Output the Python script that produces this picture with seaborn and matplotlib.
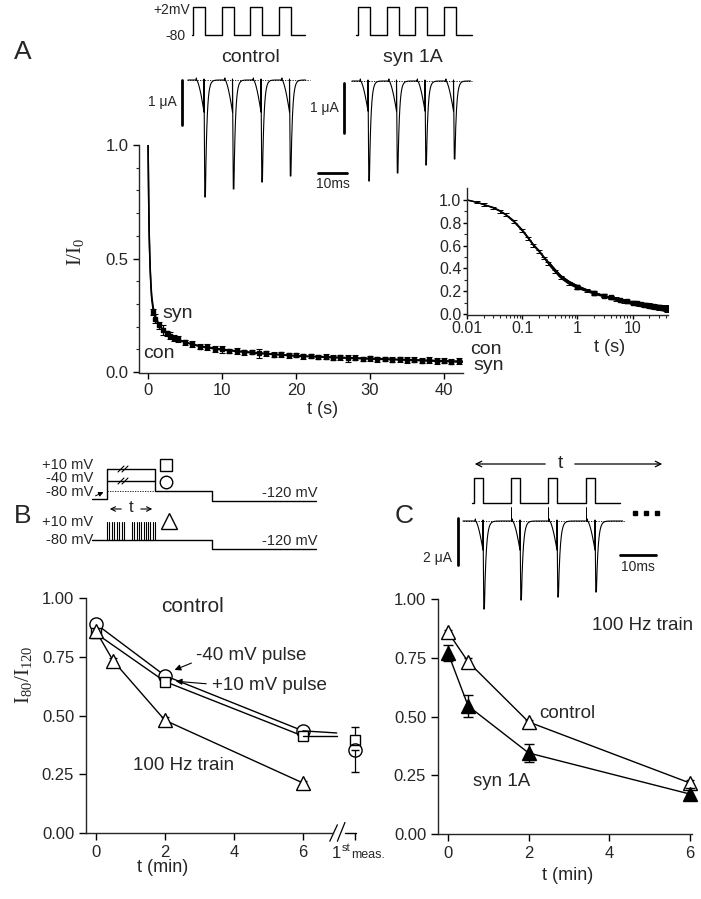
import numpy as np
import pandas as pd
import matplotlib
matplotlib.use("Agg")
import matplotlib.pyplot as plt
import seaborn as sns

sns.set_style("ticks")
plt.rcParams['font.family'] = ['Liberation Sans', 'DejaVu Sans']
plt.rcParams['mathtext.fontset'] = 'custom'
plt.rcParams['mathtext.rm'] = 'Liberation Serif'
plt.rcParams['mathtext.it'] = 'Liberation Serif:italic'
plt.rcParams['axes.linewidth'] = 1.0
plt.rcParams['xtick.direction'] = 'out'
plt.rcParams['ytick.direction'] = 'out'

# ---------------- data: panel A ----------------
t_curve = [0.01, 0.015, 0.02, 0.03, 0.04, 0.05, 0.07, 0.1, 0.13, 0.16, 0.2, 0.25, 0.3, 0.4, 0.5, 0.7,
           1.0, 1.5, 2.0, 3.0, 4.0, 5.0, 7.0, 10.0, 13.0, 16.0, 20.0, 25.0, 30.0, 35.0, 40.0, 43.0]
con_curve = [1.00, 0.98, 0.96, 0.93, 0.90, 0.87, 0.81, 0.73, 0.66, 0.60, 0.55, 0.49, 0.44, 0.37, 0.32, 0.27,
             0.235, 0.205, 0.185, 0.160, 0.145, 0.132, 0.115, 0.100, 0.090, 0.082, 0.072, 0.066, 0.060, 0.055, 0.050, 0.047]
syn_curve = [1.00, 0.98, 0.96, 0.935, 0.905, 0.875, 0.82, 0.74, 0.67, 0.61, 0.56, 0.50, 0.455, 0.385, 0.335, 0.285,
             0.245, 0.21, 0.188, 0.160, 0.143, 0.130, 0.112, 0.097, 0.087, 0.079, 0.070, 0.063, 0.057, 0.052, 0.046, 0.043]
curve_err = [0.0, 0.01, 0.012, 0.012, 0.012, 0.012, 0.012, 0.015, 0.015, 0.015, 0.015, 0.012, 0.012, 0.012, 0.012, 0.012,
             0.012, 0.012, 0.012, 0.012, 0.015, 0.015, 0.015, 0.015, 0.018, 0.018, 0.02, 0.02, 0.022, 0.024, 0.026, 0.028]

con_eb_t = [1, 2, 3, 4, 6, 8, 10, 12, 14, 16, 18, 20, 22, 24, 26, 28, 30, 32, 34, 36, 38, 40, 42]
con_eb_y = [0.235, 0.185, 0.160, 0.145, 0.123, 0.110, 0.100, 0.093, 0.088, 0.082, 0.078, 0.074, 0.071, 0.068,
            0.065, 0.063, 0.060, 0.058, 0.056, 0.054, 0.052, 0.050, 0.048]
con_eb_e = [0.02, 0.02, 0.015, 0.015, 0.012, 0.012, 0.015, 0.012, 0.01, 0.01, 0.012, 0.01, 0.01, 0.012, 0.01,
            0.01, 0.012, 0.01, 0.01, 0.012, 0.012, 0.012, 0.012]
syn_eb_t = [0.7, 1.5, 2.5, 3.5, 5, 7, 9, 11, 13, 15, 17, 19, 21, 23, 25, 27, 29, 31, 33, 35, 37, 39, 41]
syn_eb_y = [0.265, 0.205, 0.170, 0.150, 0.130, 0.112, 0.101, 0.093, 0.087, 0.082, 0.077, 0.073, 0.069, 0.066,
            0.063, 0.060, 0.058, 0.056, 0.054, 0.052, 0.050, 0.048, 0.046]
syn_eb_e = [0.012, 0.015, 0.012, 0.012, 0.01, 0.01, 0.012, 0.01, 0.01, 0.02, 0.01, 0.01, 0.012, 0.01, 0.01,
            0.015, 0.01, 0.01, 0.01, 0.012, 0.012, 0.012, 0.012]

# ---------------- data: panel B ----------------
t_B = [0, 2, 6]
circ_B = [0.89, 0.67, 0.435]
sq_B = [0.85, 0.645, 0.413]
t_tri_B = [0, 0.5, 2, 6]
tri_B = [0.86, 0.733, 0.48, 0.213]
tri_B_err = [0.01, 0.012, 0.012, 0.01]
ext_t = [6, 6.98]
circ_ext = [0.435, 0.426]
sq_ext = [0.413, 0.413]
first_meas_x = 7.5
first_circ, first_circ_err = 0.354, 0.094
first_sq, first_sq_err = 0.396, 0.056

# ---------------- data: panel C ----------------
t_C = [0, 0.5, 2, 6]
ctrl_C = [0.86, 0.733, 0.477, 0.217]
ctrl_C_err = [0.01, 0.015, 0.01, 0.015]
syn_C = [0.771, 0.545, 0.345, 0.17]
syn_C_err = [0.035, 0.045, 0.04, 0.025]

# ---------------- figure ----------------
W, H = 701, 899
fig = plt.figure(figsize=(W / 100, H / 100), dpi=100)


def px_axes(l, t, r, b):
    return fig.add_axes([l / W, 1 - b / H, (r - l) / W, (b - t) / H])


def style(ax):
    for s in ['top', 'right']:
        ax.spines[s].set_visible(False)
    ax.tick_params(which='major', length=4, width=1, labelsize=12, color='black')
    ax.tick_params(which='minor', length=2.2, width=0.8)


# ---- Panel A main ----
dfA = pd.DataFrame({'t': t_curve * 2, 'v': con_curve + syn_curve,
                    's': ['con'] * len(t_curve) + ['syn'] * len(t_curve)})
axA = px_axes(139, 145, 463, 373)
sns.lineplot(data=dfA, x='t', y='v', units='s', estimator=None, color='black', lw=1.1, ax=axA, legend=False)
axA.errorbar(con_eb_t, con_eb_y, yerr=con_eb_e, fmt='s', ms=3.2, color='black', capsize=2.5, elinewidth=0.8, capthick=0.8)
axA.errorbar(syn_eb_t, syn_eb_y, yerr=syn_eb_e, fmt='s', ms=3.2, color='black', capsize=2.5, elinewidth=0.8, capthick=0.8)
axA.set_xlim(-1.22, 42.57)
axA.set_ylim(-0.0044, 1.0)
axA.set_xticks([0, 10, 20, 30, 40])
axA.set_yticks([0, 0.5, 1.0])
axA.set_yticklabels(['0.0', '0.5', '1.0'])
axA.set_yticks(np.arange(0.1, 1.0, 0.1), minor=True)
axA.set_xlabel('')
axA.set_ylabel('')
style(axA)
axA.spines['left'].set_bounds(0, 1.0)

# ---- Panel A inset ----
axI = px_axes(467, 188, 668, 315)
sns.lineplot(data=dfA, x='t', y='v', units='s', estimator=None, color='black', lw=1.0, ax=axI, legend=False)
axI.errorbar(t_curve, con_curve, yerr=curve_err, fmt='none', ecolor='black', capsize=2, elinewidth=0.7, capthick=0.7)
axI.fill_between(t_curve, np.array(con_curve) - np.array(curve_err), np.array(syn_curve) + np.array(curve_err),
                 where=np.array(t_curve) >= 0.3, color='black', lw=0)
axI.errorbar(con_eb_t, con_eb_y, yerr=con_eb_e, fmt='s', ms=3, color='black', capsize=2, elinewidth=0.7)
axI.set_xscale('log')
axI.set_xlim(0.01, 44)
axI.set_ylim(-0.009, 1.105)
axI.set_xticks([0.01, 0.1, 1, 10])
axI.set_xticklabels(['0.01', '0.1', '1', '10'])
axI.set_yticks([0, 0.2, 0.4, 0.6, 0.8, 1.0])
axI.set_yticklabels(['0.0', '0.2', '0.4', '0.6', '0.8', '1.0'])
axI.set_yticks(np.arange(0.1, 1.1, 0.2), minor=True)
axI.set_xlabel('')
axI.set_ylabel('')
style(axI)
axI.tick_params(which='major', labelsize=11.5, length=3, pad=1)

# ---- Panel B ----
nc = dict(clip_on=False)
axB = px_axes(86, 597, 356, 833)
sns.lineplot(x=t_B, y=circ_B, marker='o', ms=9.5, mfc='white', mec='black', mew=1, color='black', lw=1, ax=axB, **nc)
sns.lineplot(x=t_B, y=sq_B, marker='s', ms=7.5, mfc='white', mec='black', mew=1, color='black', lw=1, ax=axB, **nc)
sns.lineplot(x=ext_t, y=circ_ext, color='black', lw=1, ax=axB, **nc)
sns.lineplot(x=ext_t, y=sq_ext, color='black', lw=1, ax=axB, **nc)
sns.lineplot(x=t_tri_B, y=tri_B, marker='^', ms=10, mfc='white', mec='black', mew=1, color='black', lw=1, ax=axB, **nc)
axB.errorbar(t_tri_B, tri_B, yerr=tri_B_err, fmt='none', ecolor='black', capsize=3, elinewidth=0.8, zorder=1, **nc)
e1 = axB.errorbar([first_meas_x], [first_sq], yerr=[[0], [first_sq_err]], fmt='s', ms=7.5, mfc='white', mec='black',
                  ecolor='black', capsize=3, elinewidth=0.9, **nc)
e2 = axB.errorbar([first_meas_x], [first_circ], yerr=[[first_circ_err], [0]], fmt='o', ms=9.5, mfc='none', mec='black',
                  ecolor='black', capsize=3, elinewidth=0.9, **nc)
for e in (e1, e2):
    for art in e.lines[1] + e.lines[2]:
        art.set_clip_on(False)
axB.set_xlim(-0.29, 7.54)
axB.set_ylim(0, 1.005)
axB.set_xticks([0, 2, 4, 6, 7.5])
axB.set_xticklabels(['0', '2', '4', '6', ''])
axB.set_yticks([0, 0.25, 0.5, 0.75, 1.0])
axB.set_yticklabels(['0.00', '0.25', '0.50', '0.75', '1.00'])
style(axB)
axB.tick_params(which='major', length=5)
axB.spines['bottom'].set_bounds(-0.29, 6.88)
axB.spines['left'].set_bounds(0, 1.0)
axB.plot([7.22, 7.54], [0, 0], color='black', lw=1, clip_on=False)
axB.plot([6.78, 7.0], [-0.035, 0.035], color='black', lw=0.9, clip_on=False)
axB.plot([7.0, 7.22], [-0.035, 0.045], color='black', lw=0.9, clip_on=False)
axB.set_xlabel('')
axB.set_ylabel('')

# ---- Panel C ----
axC = px_axes(438, 598, 692, 834)
sns.lineplot(x=t_C, y=ctrl_C, marker='^', ms=10, mfc='white', mec='black', mew=1, color='black', lw=1, ax=axC, **nc)
sns.lineplot(x=t_C, y=syn_C, marker='^', ms=10, mfc='black', mec='black', mew=1, color='black', lw=1, ax=axC, **nc)
e3 = axC.errorbar(t_C, ctrl_C, yerr=ctrl_C_err, fmt='none', ecolor='black', capsize=3, elinewidth=0.8, zorder=1)
e4 = axC.errorbar(t_C, syn_C, yerr=syn_C_err, fmt='none', ecolor='black', capsize=3.5, elinewidth=1, zorder=3)
for e in (e3, e4):
    for art in list(e.lines[1]) + list(e.lines[2]):
        art.set_clip_on(False)
axC.set_xlim(-0.248, 6.05)
axC.set_ylim(0, 1.005)
axC.set_xticks([0, 2, 4, 6])
axC.set_yticks([0, 0.25, 0.5, 0.75, 1.0])
axC.set_yticklabels(['0.00', '0.25', '0.50', '0.75', '1.00'])
style(axC)
axC.tick_params(which='major', length=5)
axC.spines['left'].set_bounds(0, 1.0)
axC.set_xlabel('')
axC.set_ylabel('')

# ---------------- overlay (schematics and labels, pixel coordinates) ----------------
ov = fig.add_axes([0, 0, 1, 1], zorder=10)
ov.set_xlim(0, W)
ov.set_ylim(H, 0)
ov.axis('off')
ov.patch.set_alpha(0)

# schematic parameters
pulseA_ctrl = [193, 221.5, 250, 278.5]
pulseA_syn = [358, 386.5, 415, 443.5]
spikesA_ctrl = [117, 109, 102, 96]
spikesA_syn = [100, 92, 84, 78]
pulseC = [474, 511, 548, 586]
spikesC = [88, 79, 76, 71]


def pulse_path(rises, width, lo, hi, start, end):
    xs, ys = [start], [lo]
    for r in rises:
        xs += [r, r, r + width, r + width]
        ys += [lo, hi, hi, lo]
    xs.append(end)
    ys.append(lo)
    return xs, ys


def current_path(onsets, width, base, trans, spikes, tau, start, end):
    xs, ys = [start], [base]
    for i, x0 in enumerate(onsets):
        xs += [x0, x0 + 0.4]
        ys += [base, base - 2]
        u = np.linspace(0, 1, 14)
        xs += list(x0 + 0.6 + u * (width - 0.6))
        ys += list(base + trans * u ** 1.5)
        x1 = x0 + width + 0.8
        nxt = onsets[i + 1] - 0.5 if i + 1 < len(onsets) else end
        v = np.linspace(0, nxt - x1, 40)
        xs += [x0 + width, x1]
        ys += [base - 1, base + spikes[i]]
        xs += list(x1 + 0.6 + v)
        ys += list(base + spikes[i] * np.exp(-v / tau))
    return xs, ys


lk = dict(color='black', lw=1.0)
# Panel A voltage pulses
x, y = pulse_path(pulseA_ctrl, 12, 35, 7, 192, 305)
ov.plot(x, y, **lk)
x, y = pulse_path(pulseA_syn, 12, 35, 7, 356, 472)
ov.plot(x, y, **lk)
# Panel A current traces
ov.plot([187, 310], [80, 80], color='black', lw=0.6, ls=(0, (1.5, 1.5)))
ov.plot([351, 472], [81, 81], color='black', lw=0.6, ls=(0, (1.5, 1.5)))
x, y = current_path([o + 3 for o in pulseA_ctrl], 8, 80, 32, spikesA_ctrl, 1.6, 188, 305)
ov.plot(x, y, color='black', lw=0.8)
x, y = current_path([o + 2 for o in pulseA_syn], 8, 81, 30, spikesA_syn, 1.6, 352, 470)
ov.plot(x, y, color='black', lw=0.8)
# scale bars A
ov.plot([182, 182], [80, 125], color='black', lw=2)
ov.plot([344, 344], [83, 133], color='black', lw=2)
ov.plot([318, 347], [173, 173], color='black', lw=2)

# Panel B schematic
ov.plot([92, 107, 107, 155, 155, 212, 212, 316], [499, 499, 469, 469, 491, 491, 501, 501], **lk)
ov.plot([107, 155], [481, 481], **lk)
ov.plot([107, 155], [491, 491], color='black', lw=0.6, ls=(0, (1.5, 1.5)))
for yy in (469, 481):
    ov.plot([118, 124], [yy + 3, yy - 3], color='black', lw=0.8)
    ov.plot([122, 128], [yy + 3, yy - 3], color='black', lw=0.8)
ov.plot([166], [465], marker='s', ms=8, mfc='white', mec='black', mew=1)
ov.plot([166], [482], marker='o', ms=9, mfc='white', mec='black', mew=1)
ov.plot([92, 155, 155, 212, 212, 316], [540, 540, 540, 540, 549, 549], **lk)
for bx in list(np.linspace(107, 124, 8)) + list(np.linspace(132, 155, 11)):
    ov.plot([bx, bx], [540, 522], color='black', lw=0.8)
ov.plot([169], [521], marker='^', ms=11, mfc='white', mec='black', mew=1)
ov.annotate('', xy=(106, 491), xytext=(93, 497),
            arrowprops=dict(arrowstyle='-|>', color='black', lw=0.7, mutation_scale=7))
ov.annotate('', xy=(107, 509), xytext=(124, 509),
            arrowprops=dict(arrowstyle='->', color='black', lw=0.8, mutation_scale=8))
ov.annotate('', xy=(155, 509), xytext=(138, 509),
            arrowprops=dict(arrowstyle='->', color='black', lw=0.8, mutation_scale=8))
ov.annotate('', xy=(172, 671), xytext=(194, 662),
            arrowprops=dict(arrowstyle='-|>', color='black', lw=0.8, mutation_scale=9))
ov.annotate('', xy=(173, 681), xytext=(209, 684),
            arrowprops=dict(arrowstyle='-|>', color='black', lw=0.8, mutation_scale=9))

# Panel C schematic
ov.annotate('', xy=(472, 464), xytext=(548, 464),
            arrowprops=dict(arrowstyle='->', color='black', lw=0.9, mutation_scale=10))
ov.annotate('', xy=(665, 464), xytext=(572, 464),
            arrowprops=dict(arrowstyle='->', color='black', lw=0.9, mutation_scale=10))
x, y = pulse_path(pulseC, 9, 503, 478, 472, 620)
ov.plot(x, y, **lk)
ov.plot([463, 625], [521, 521], color='black', lw=0.6, ls=(0, (1.5, 1.5)))
x, y = current_path([o + 1 for o in pulseC], 8, 521, 29, spikesC, 1.8, 463, 622)
ov.plot(x, y, color='black', lw=0.8)
for o in pulseC[1:]:
    ov.plot([o, o], [507, 521], color='black', lw=0.7)
ov.plot([635, 646, 657], [513, 513, 513], ls='none', marker='s', ms=3.2, color='black')
ov.plot([458, 458], [518, 565], color='black', lw=2)
ov.plot([620, 656], [555, 555], color='black', lw=2)

# ---------------- text ----------------
def T(x, y, s, size=13, ha='center', va='center', **kw):
    ov.text(x, y, s, fontsize=size, ha=ha, va=va, **kw)


T(14, 52, 'A', 19, ha='left')
T(14, 516, 'B', 19, ha='left')
T(395, 516, 'C', 19, ha='left')

T(190, 10, '+2mV', 10, ha='right')
T(186, 36, '-80', 10, ha='right')
T(250, 57, 'control', 14)
T(413, 57, 'syn 1A', 14)
T(177, 102, '1 μA', 10, ha='right')
T(339, 108, '1 μA', 10, ha='right')
T(333, 184, '10ms', 10)
T(75, 252, r'$\mathrm{I/I_0}$', 15, rotation=90)
T(323, 410, 't (s)', 13)
T(162, 313, 'syn', 14, ha='left')
T(143, 354, 'con', 14, ha='left')
T(470, 349, 'con', 14, ha='left')
T(473, 366, 'syn', 14, ha='left')
T(610, 348, 't (s)', 13)

T(93, 465, '+10 mV', 10.5, ha='right')
T(93, 478, '-40 mV', 10.5, ha='right')
T(93, 492, '-80 mV', 10.5, ha='right')
T(317, 493, '-120 mV', 10.5, ha='right')
T(131, 508, 't', 12)
T(93, 522, '+10 mV', 10.5, ha='right')
T(93, 540, '-80 mV', 10.5, ha='right')
T(317, 541, '-120 mV', 10.5, ha='right')

T(193, 607, 'control', 15)
T(251, 655, '-40 mV pulse', 13.5)
T(269, 686, '+10 mV pulse', 13.5)
T(184, 765, '100 Hz train', 13.5)
T(23, 675, r'$\mathrm{I_{80}/I_{120}}$', 15, rotation=90)
T(163, 867, 't (min)', 13)
T(341, 853, '1', 12, ha='right')
T(342, 848, 'st', 8, ha='left')
T(351, 855, 'meas.', 9, ha='left')

T(560, 464, 't', 14)
T(452, 558, '2 μA', 10, ha='right')
T(638, 567, '10ms', 10)
T(643, 625, '100 Hz train', 13.5)
T(567, 713, 'control', 13.5)
T(502, 782, 'syn 1A', 13.5)
T(568, 875, 't (min)', 13)

fig.savefig('out.png', dpi=100)
